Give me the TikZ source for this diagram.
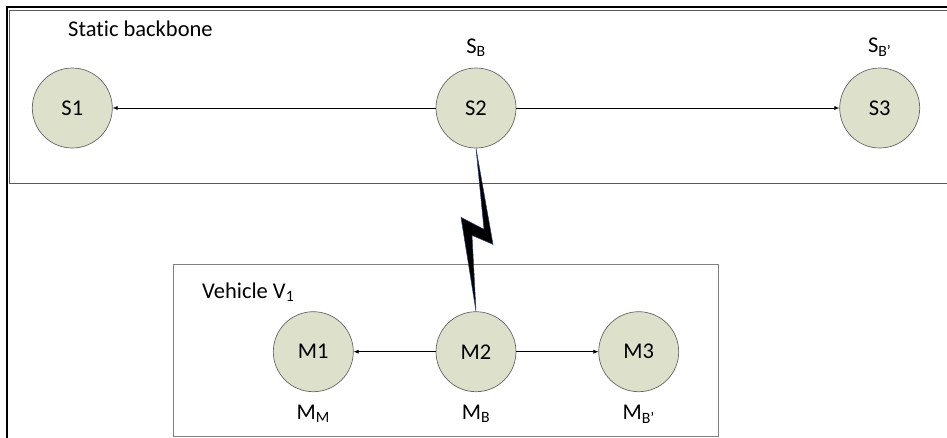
\documentclass[tikz,border=0pt]{standalone}
\usepackage{fontspec}
\setmainfont[Ligatures=NoCommon]{Carlito}
\usepackage{tikz}
\usetikzlibrary{arrows.meta,positioning}

\definecolor{nodefill}{RGB}{221,225,204}
\definecolor{boltline}{RGB}{40,62,110}

\begin{document}
\begin{tikzpicture}[
		x=1pt, y=-1pt,
		>={Latex[length=5pt,width=4pt]},
		font=\fontsize{22.5}{27}\selectfont,
		station/.style={circle, draw=black!60, line width=0.7pt, fill=nodefill, minimum size=80pt, inner sep=0pt},
		tag/.style={inner sep=0pt},
		link/.style={->, line width=0.6pt},
		frame/.style={draw=black!65, line width=0.9pt},
		bolt/.style={fill=black, draw=boltline, line width=0.5pt, line join=miter}
		]
		\useasboundingbox (0,0) rectangle (947,437);
		
		% Frames
		\draw[black, line width=1.6pt] (7,460) -- (7,7) -- (970,7);
		\draw[frame] (9.5,10.5) rectangle (970,183);
		\draw[frame, draw=black!50] (173,264) rectangle (718,436);
		\node[tag, anchor=base west] (backbone) at (68,36) {Static backbone};
		\node[tag, anchor=base west] (vehicle) at (202,298) {Vehicle V\textsubscript{1}};
		
		% Row 1: static stations
		\node[station] (S2) at (476,108) {S2};
		\node[station, left=323pt of S2] (S1) {S1};
		\node[station, right=323pt of S2] (S3) {S3};
		\node[tag, above=11pt of S2] (S2tag) {S\textsubscript{B}};
		\node[tag, above=11pt of S3] (S3tag) {S\textsubscript{B’}};
		
		% Row 2: mobile stations
		\node[station, below=163pt of S2] (M2) {M2};
		\node[station, left=82pt of M2] (M1) {M1};
		\node[station, right=82pt of M2] (M3) {M3};
		\node[tag, below=13pt of M1] (M1tag) {M\textsubscript{M}};
		\node[tag, below=13pt of M2] (M2tag) {M\textsubscript{B}};
		\node[tag, below=13pt of M3] (M3tag) {M\textsubscript{B’}};
		
		% Links
		\draw[link] (S2) -- (S1);
		\draw[link] (S2) -- (S3);
		\draw[link] (M2) -- (M1);
		\draw[link] (M2) -- (M3);
		
		% Wireless link
		\draw[bolt] (S2.south) -- ++(17,96) -- ++(-21,-9) -- (M2.north) -- ++(-15,-94) -- ++(23,12) -- cycle;
		
	\end{tikzpicture}
\end{document}
